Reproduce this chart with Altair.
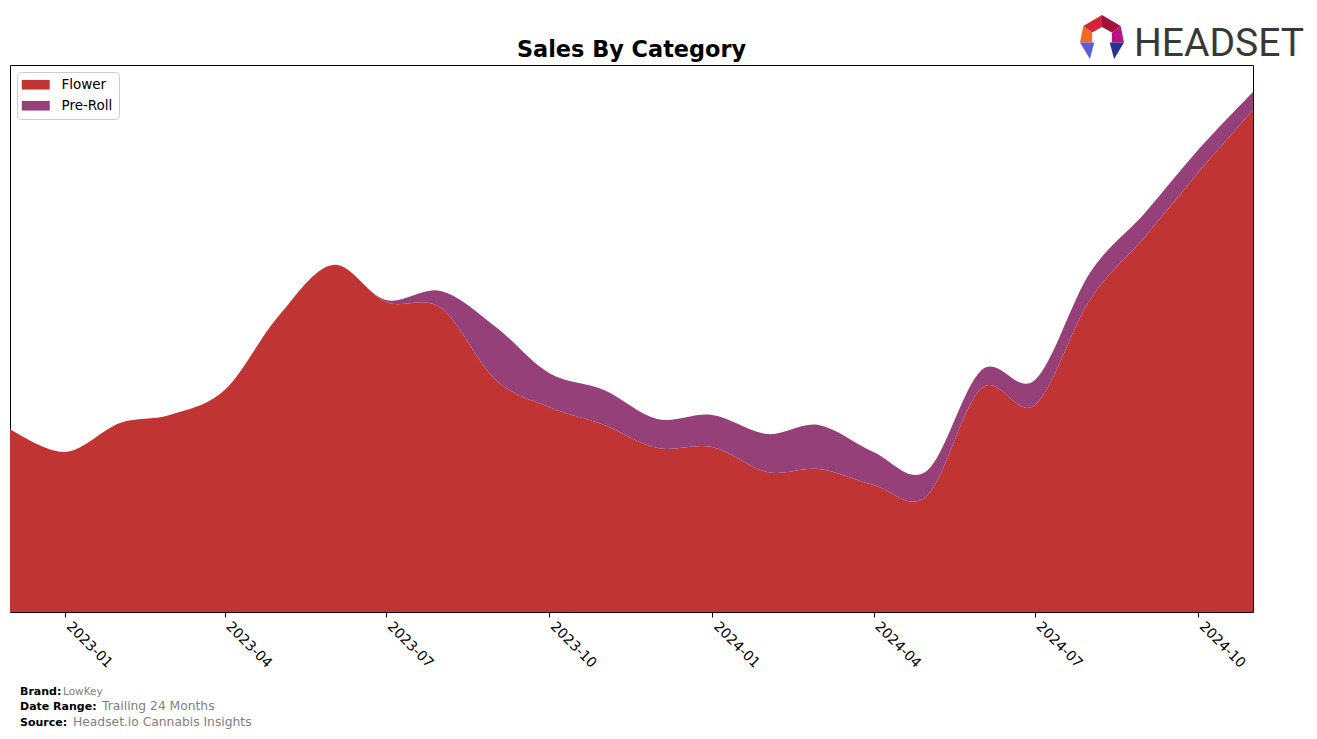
import altair as alt
import pandas as pd

# ---- data ----
months = [
    "2022-12-01", "2023-01-01", "2023-02-01", "2023-03-01", "2023-04-01", "2023-05-01",
    "2023-06-01", "2023-07-01", "2023-08-01", "2023-09-01", "2023-10-01", "2023-11-01",
    "2023-12-01", "2024-01-01", "2024-02-01", "2024-03-01", "2024-04-01", "2024-05-01",
    "2024-06-01", "2024-07-01", "2024-08-01", "2024-09-01", "2024-10-01", "2024-11-01",
]
flower = [183, 160, 189, 197, 222, 295, 347, 310, 304, 232, 205, 187,
          164, 165, 140, 143, 127, 116, 224, 207, 312, 375, 439, 502]
preroll = [0, 0, 0, 0, 0, 0, 0, 2, 17, 53, 34, 35,
           29, 32, 38, 44, 33, 25, 18, 25, 27, 24, 23, 18]
categories = ["Flower", "Pre-Roll"]
colors = ["#C13434", "#96407A"]
tick_years_months = [(2023, 1), (2023, 4), (2023, 7), (2023, 10),
                     (2024, 1), (2024, 4), (2024, 7), (2024, 10)]
footer_labels = ["Brand:", "Date Range:", "Source:"]
footer_values = ["LowKey", "Trailing 24 Months", "Headset.io Cannabis Insights"]
chart_title = "Sales By Category"

rows = []
for m, f, p in zip(months, flower, preroll):
    rows.append({"month": m, "category": "Flower", "sales": f, "ord": 0})
    rows.append({"month": m, "category": "Pre-Roll", "sales": p, "ord": 1})
df = pd.DataFrame(rows)

W, H = 1243, 547
FONT = "DejaVu Sans"

x_domain = [alt.DateTime(year=2022, month=12, date=1, utc=True),
            alt.DateTime(year=2024, month=11, date=1, utc=True)]
tick_vals = [alt.DateTime(year=y, month=mo, date=1, utc=True) for y, mo in tick_years_months]

area = alt.Chart(df).mark_area(interpolate="cardinal", opacity=1).encode(
    x=alt.X("month:T", title=None,
            scale=alt.Scale(type="utc", domain=x_domain),
            axis=alt.Axis(values=tick_vals, format="%Y-%m", labelAngle=45,
                          labelAlign="left", labelBaseline="top", labelFontSize=14,
                          labelFont=FONT, labelColor="black", tickColor="black",
                          tickSize=5, labelPadding=2, labelOffset=8, domain=False,
                          grid=False, labelOverlap=False, labelFlush=False)),
    y=alt.Y("sales:Q", stack="zero", title=None,
            scale=alt.Scale(domain=[0, H], nice=False, zero=True), axis=None),
    color=alt.Color("category:N",
                    scale=alt.Scale(domain=categories, range=colors),
                    legend=alt.Legend(title=None, orient="none", legendX=7, legendY=7,
                                      symbolType="M-2.33,-0.8L2.33,-0.8L2.33,0.8L-2.33,0.8Z",
                                      symbolSize=144, symbolStrokeWidth=0, symbolOpacity=1,
                                      symbolOffset=6, labelOffset=19,
                                      labelFontSize=13.5, labelFont=FONT, labelColor="black",
                                      padding=6, rowPadding=6, strokeColor="#cccccc",
                                      fillColor="white", cornerRadius=4)),
    order=alt.Order("ord:Q"),
)

one = pd.DataFrame({"k": [0]})

def text_layer(txt, x, y, size, color="black", weight="normal", font=FONT, align="left"):
    return alt.Chart(one).mark_text(
        text=txt, align=align, baseline="alphabetic", fontSize=size,
        font=font, fontWeight=weight, color=color,
    ).encode(x=alt.value(x), y=alt.value(y))

layers = [area]
# title
layers.append(text_layer(chart_title, W / 2, -8, 22.4, weight="bold", align="center"))
# footer
footer_y = [630, 645, 661]
label_x = 10
value_x = [53, 92, 63]
value_sizes = [10.5, 12.3, 12.3]
for lab, val, yy, vx, vs in zip(footer_labels, footer_values, footer_y, value_x, value_sizes):
    layers.append(text_layer(lab, label_x, yy, 11, weight="bold"))
    layers.append(text_layer(val, vx, yy, vs, color="#808080"))

# HEADSET logo (decorative)
logo_pieces = [
    ("M-0.85,-0.5L0,-1L0,-0.45L-0.45,-0.2Z", "#D9213A"),
    ("M0,-1L0.85,-0.5L0.45,-0.2L0,-0.45Z", "#A3123A"),
    ("M-0.85,-0.5L-0.45,-0.2L-0.45,0.25L-1,0.25Z", "#F26B21"),
    ("M0.85,-0.5L1,0.25L0.45,0.25L0.45,-0.2Z", "#B8157E"),
    ("M-1,0.25L-0.35,0.25L-0.55,1Z", "#5A5FD8"),
    ("M1,0.25L0.35,0.25L0.55,1Z", "#2D2F92"),
]
for path, col in logo_pieces:
    layers.append(
        alt.Chart(one).mark_point(shape=path, filled=True, fill=col, size=1936,
                                  opacity=1, strokeWidth=0)
        .encode(x=alt.value(1092), y=alt.value(-28))
    )
layers.append(text_layer("HEADSET", 1124, -9, 39, color="#383838", font="Roboto"))

chart = alt.layer(*layers).properties(
    width=W, height=H,
    autosize=alt.AutoSizeParams(type="none"),
    padding={"left": 10, "top": 65, "right": 64, "bottom": 127},
    background="white",
).configure_view(stroke="black", strokeWidth=1)

chart.save("out.html", embed_options={"renderer": "svg", "actions": False})
